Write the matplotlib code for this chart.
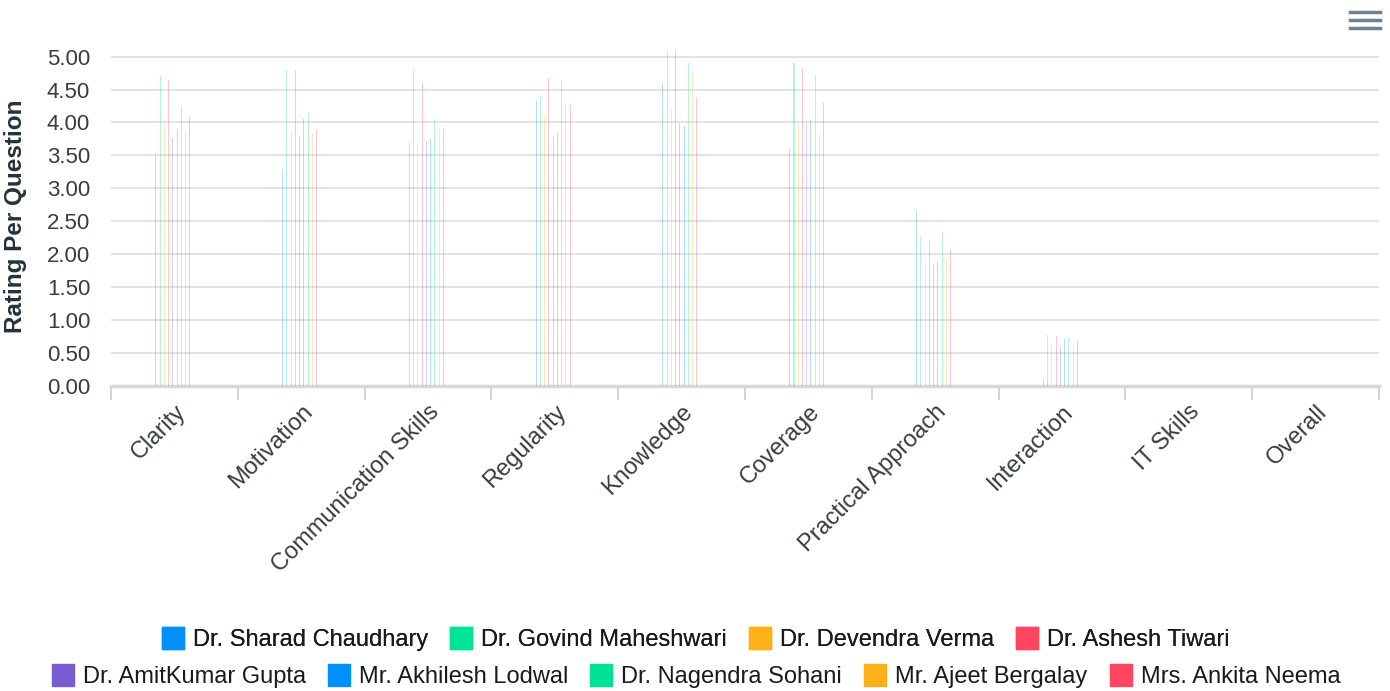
import numpy as np
import matplotlib.pyplot as plt
from matplotlib.lines import Line2D

plt.rcParams['font.family'] = ['Liberation Sans', 'DejaVu Sans']

categories = ["Clarity", "Motivation", "Communication Skills", "Regularity", "Knowledge",
              "Coverage", "Practical Approach", "Interaction", "IT Skills", "Overall"]

teachers = ["Dr. Sharad Chaudhary", "Dr. Govind Maheshwari", "Dr. Devendra Verma",
            "Dr. Ashesh Tiwari", "Dr. AmitKumar Gupta", "Mr. Akhilesh Lodwal",
            "Dr. Nagendra Sohani", "Mr. Ajeet Bergalay", "Mrs. Ankita Neema"]

colors = ["#008FFB", "#00E396", "#FEB019", "#FF4560", "#775DD0",
          "#008FFB", "#00E396", "#FEB019", "#FF4560"]

# rating per question, one list per teacher (same order as categories)
sharad   = [3.51, 3.30, 3.69, 4.33, 4.59, 3.61, 2.65, 0.09, 0, 0]
govind   = [4.70, 4.80, 4.80, 4.42, 5.09, 4.91, 2.26, 0.77, 0, 0]
devendra = [4.01, 3.86, 3.71, 4.11, 4.21, 3.97, 1.90, 0.65, 0, 0]
ashesh   = [4.65, 4.80, 4.60, 4.67, 5.09, 4.82, 2.21, 0.75, 0, 0]
amit     = [3.76, 3.79, 3.71, 3.79, 3.99, 3.99, 1.83, 0.59, 0, 0]
akhilesh = [3.90, 4.05, 3.75, 3.84, 3.94, 4.03, 1.89, 0.71, 0, 0]
nagendra = [4.25, 4.15, 4.05, 4.63, 4.91, 4.72, 2.34, 0.73, 0, 0]
ajeet    = [3.86, 3.84, 3.90, 4.27, 4.75, 3.82, 1.91, 0.61, 0, 0]
ankita   = [4.10, 3.90, 3.90, 4.27, 4.39, 4.31, 2.06, 0.68, 0, 0]

series = [sharad, govind, devendra, ashesh, amit, akhilesh, nagendra, ajeet, ankita]

fig = plt.figure(figsize=(13.9, 6.91), dpi=100)
ax = fig.add_axes([0.0799, 0.4418, 0.9122, 0.4905])

x = np.arange(len(categories))
step = 0.0335
for i, (vals, c) in enumerate(zip(series, colors)):
    ax.bar(x + (i - 4.4) * step, vals, width=0.008, color=c, alpha=0.3, linewidth=0, zorder=3)

ax.set_xlim(-0.5, len(categories) - 0.5)
ax.set_ylim(0, 5.15)
ax.set_yticks(np.arange(0, 5.01, 0.5))
ax.set_yticklabels([f"{v:.2f}" for v in np.arange(0, 5.01, 0.5)])
ax.tick_params(axis='y', length=0, pad=15, labelsize=16, labelcolor='#373d3f')
ax.grid(axis='y', color='#e0e0e0', linewidth=1.3, zorder=0)
ax.set_axisbelow(True)

ax.set_xticks(x)
ax.set_xticklabels(categories, rotation=45, ha='right', rotation_mode='anchor')
ax.tick_params(axis='x', which='major', length=0, pad=11, labelsize=17, labelcolor='#373d3f')
ax.set_xticks(np.arange(-0.5, len(categories)), minor=True)
ax.tick_params(axis='x', which='minor', length=10, width=1.3, color='#d0d0d0')

for s in ['top', 'right', 'left']:
    ax.spines[s].set_visible(False)
ax.spines['bottom'].set_color('#d8d8d8')
ax.spines['bottom'].set_linewidth(2.5)

ax.set_ylabel("Rating Per Question", fontsize=17.5, fontweight='bold', color='#263238', labelpad=14)

handles = [Line2D([], [], marker='s', linestyle='none', markersize=16,
                  markerfacecolor=c, markeredgecolor=c) for c in colors]
leg_kw = dict(loc='center', frameon=False, fontsize=17, handletextpad=0.3,
              columnspacing=0.85, handlelength=1.1, labelcolor='#1a1a1a')
leg1 = fig.legend(handles[:4], teachers[:4], bbox_to_anchor=(0.5, 1 - 640 / 691), ncol=4, **leg_kw)
leg2 = fig.legend(handles[4:], teachers[4:], bbox_to_anchor=(0.5, 1 - 677 / 691), ncol=5, **leg_kw)
fig.add_artist(leg1)

# menu icon
for yy in [12, 20, 28]:
    fig.add_artist(Line2D([1350 / 1390, 1380 / 1390], [1 - yy / 691, 1 - yy / 691],
                          color='#6e8192', linewidth=2.5))

fig.savefig("out.png", dpi=100)
